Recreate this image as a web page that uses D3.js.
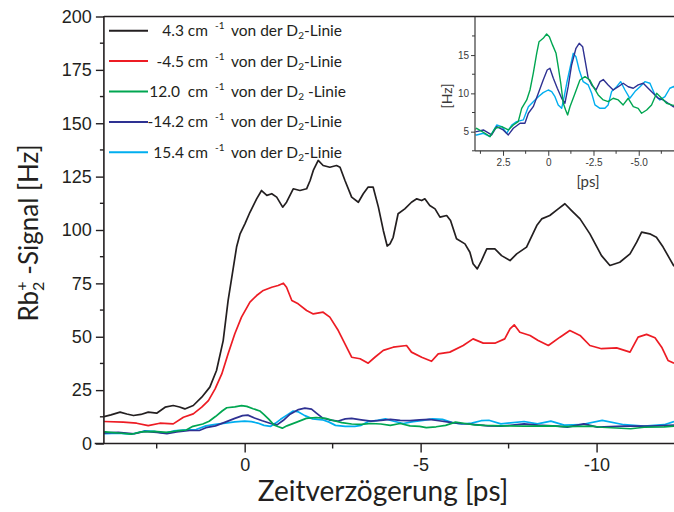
<!DOCTYPE html>
<html><head><meta charset="utf-8">
<script src="https://cdn.jsdelivr.net/npm/d3@7"></script>
<style>
html,body{margin:0;padding:0;background:#fff;}
svg{display:block;font-family:Lato, "Open Sans", sans-serif;}
</style></head>
<body>
<svg id="c" width="674" height="512"></svg>
<script>
// ---- data: [time delay (ps), signal (Hz)] ----
const black43 = [[4.0,12.6],[3.8,13.4],[3.54,14.7],[3.35,13.8],[3.16,13.1],[2.95,13.6],[2.74,14.7],[2.5,14.2],[2.26,17.0],[2.03,17.8],[1.85,17.1],[1.70,16.2],[1.46,17.8],[1.22,21.7],[0.99,26.4],[0.80,34.2],[0.61,48.2],[0.47,67],[0.32,82.6],[0.23,92],[0.13,98.2],[-0.01,103],[-0.15,108.3],[-0.34,114.6],[-0.48,118.5],[-0.63,116.2],[-0.77,117],[-0.91,115.4],[-1.08,110.7],[-1.19,113],[-1.38,119.3],[-1.57,118.5],[-1.76,119.3],[-1.86,123.2],[-1.95,127.9],[-2.09,132.6],[-2.23,130.2],[-2.42,129.4],[-2.61,130.2],[-2.71,129.4],[-2.85,123.2],[-3.04,115.4],[-3.23,113],[-3.37,117],[-3.51,120.1],[-3.65,120.1],[-3.8,110.7],[-3.94,99.8],[-4.05,92.5],[-4.13,93.5],[-4.22,96.6],[-4.36,107.6],[-4.55,109.9],[-4.74,113],[-4.89,114.6],[-5.03,113.8],[-5.12,114.6],[-5.26,111.5],[-5.41,109.9],[-5.55,106],[-5.74,106.8],[-5.85,104.4],[-6.02,95.9],[-6.26,93.5],[-6.40,89.6],[-6.49,84.2],[-6.61,81.8],[-6.73,85.7],[-6.88,91.2],[-7.11,91.2],[-7.30,88],[-7.54,85.7],[-7.73,88.8],[-8.01,92],[-8.30,102.1],[-8.44,105.2],[-8.67,106.8],[-8.91,109.9],[-9.10,112.3],[-9.29,109.1],[-9.53,105.2],[-9.81,98.2],[-10.14,88],[-10.38,83.4],[-10.66,84.9],[-10.95,88.8],[-11.14,94.3],[-11.28,99],[-11.51,98.2],[-11.70,96.6],[-11.89,92],[-12.08,86.5],[-12.2,83]];
const red45 = [[4.0,10.3],[3.45,10],[3.07,9.5],[2.74,8.4],[2.41,9.5],[2.03,9.2],[1.74,12.3],[1.46,13.9],[1.22,17],[1.03,20.1],[0.84,25.6],[0.65,32.6],[0.47,42],[0.28,51.4],[0.09,59.2],[-0.15,66.2],[-0.34,69.3],[-0.53,71.7],[-0.77,73.2],[-0.95,74],[-1.10,75.1],[-1.19,73.2],[-1.34,67],[-1.52,65.4],[-1.76,62.3],[-1.95,60.7],[-2.23,61.5],[-2.42,59.2],[-2.66,52.9],[-2.85,46.7],[-3.04,40.4],[-3.28,39.7],[-3.51,37.6],[-3.70,40.4],[-3.94,43.6],[-4.22,45.1],[-4.60,45.9],[-4.74,42.8],[-5.03,40.4],[-5.31,38.5],[-5.50,42],[-5.83,42.8],[-6.21,45.9],[-6.49,49],[-6.78,47],[-7.11,47],[-7.39,49],[-7.54,53.7],[-7.66,55.6],[-7.82,52.1],[-8.11,50.6],[-8.34,48.2],[-8.63,45.9],[-8.96,49.8],[-9.24,52.9],[-9.53,50.6],[-9.81,45.9],[-10.14,44.4],[-10.57,44.8],[-10.95,42.8],[-11.18,49.8],[-11.42,51.1],[-11.66,49.5],[-11.85,45.1],[-12.03,38.9],[-12.2,37.6]];
const green120 = [[4.05,5.3],[3.96,5.44],[3.50,4.79],[3.22,4.35],[2.94,5.44],[2.57,5.65],[2.21,5.22],[1.93,5.87],[1.66,6.31],[1.47,8.05],[1.19,9.14],[1.01,10.44],[0.83,12.62],[0.64,15.23],[0.51,16.75],[0.28,17.19],[0.09,17.75],[-0.06,17.4],[-0.24,16.3],[-0.43,15.23],[-0.55,13.49],[-0.69,11.32],[-0.83,8.71],[-0.96,7.83],[-1.07,7.18],[-1.20,8.26],[-1.48,10.01],[-1.75,11.75],[-2.03,12.18],[-2.30,11.75],[-2.49,10.87],[-2.76,9.79],[-3.04,9.14],[-3.31,8.92],[-3.59,9.36],[-3.87,9.14],[-4.14,8.49],[-4.42,9.36],[-4.70,8.26],[-4.97,8.05],[-5.16,7.40],[-5.44,7.83],[-5.71,8.49],[-5.99,10.01],[-6.27,9.36],[-6.54,8.71],[-6.82,8.49],[-7.28,8.3],[-7.94,8.1],[-8.70,8.3],[-9.08,7.9],[-9.83,8.1],[-10.16,7.6],[-10.97,6.9],[-11.35,7.6],[-11.92,7.8],[-12.2,8.1]];
const navy142 = [[4.05,5.0],[3.96,5],[3.59,5.22],[3.13,4.57],[2.85,5.65],[2.49,5.22],[2.21,4.57],[1.93,5.44],[1.56,6.10],[1.29,6.10],[1.10,7.40],[0.83,8.26],[0.55,10.01],[0.28,11.75],[0.06,13.05],[-0.09,13.28],[-0.28,11.97],[-0.50,10.67],[-0.74,9.36],[-0.92,8.71],[-1.10,10.87],[-1.29,13.71],[-1.53,15.89],[-1.71,16.54],[-1.90,16.1],[-2.03,14.36],[-2.21,11.97],[-2.40,11.1],[-2.64,10.44],[-2.86,11.53],[-3.04,11.8],[-3.31,11.1],[-3.59,10.44],[-3.87,10.87],[-4.14,11.32],[-4.42,10.87],[-4.70,10.67],[-4.97,11.1],[-5.25,11.32],[-5.52,10.67],[-5.80,10.01],[-6.08,9.36],[-6.35,9.14],[-6.63,8.71],[-6.91,8.26],[-7.28,8.1],[-7.94,9.2],[-8.32,8.6],[-8.89,8.1],[-9.17,7.7],[-9.64,9.2],[-10.02,7.7],[-10.78,8.1],[-11.54,8.1],[-12.2,8.6]];
const cyan154 = [[4.05,4.6],[3.96,4.57],[3.59,4.79],[3.22,4.35],[2.85,5.87],[2.57,5.65],[2.30,4.79],[2.02,5.87],[1.75,6.31],[1.38,6.53],[1.10,8.26],[0.83,8.92],[0.55,9.57],[0.28,10.1],[0.0,10.44],[-0.19,10.23],[-0.37,9.57],[-0.55,8.49],[-0.74,8.05],[-0.88,9.57],[-1.02,11.32],[-1.20,13.28],[-1.38,15.23],[-1.53,14.79],[-1.71,13.05],[-1.93,11.53],[-2.21,11.1],[-2.40,10.01],[-2.58,8.49],[-2.86,8.05],[-3.13,8.05],[-3.31,8.49],[-3.50,10.23],[-3.78,10.87],[-4.0,11.53],[-4.24,10.44],[-4.51,9.36],[-4.79,10.23],[-5.07,10.87],[-5.34,11.53],[-5.62,11.32],[-5.90,9.79],[-6.17,9.14],[-6.45,9.57],[-6.72,10.67],[-6.94,10.9],[-7.28,9.2],[-7.94,10.3],[-8.32,9.2],[-8.70,10.5],[-9.08,8.6],[-9.55,8.8],[-10.16,10.8],[-10.78,8.8],[-11.35,8.1],[-11.92,8.8],[-12.2,10.3]];

const legendNumbers = ["4.3 cm", "-4.5 cm", "12.0\u00a0 cm", "-14.2 cm", "15.4 cm"];
const legendTails = ["-Linie", "-Linie", "\u00a0-Linie", "-Linie", "-Linie"];
const seriesColors = ["#231f20", "#ed1c24", "#00a651", "#2e3192", "#00aeef"];
const mainXTicks = [0, -5, -10];
const mainXLabels = ["0", "-5", "-10"];
const mainYTicks = [0, 25, 50, 75, 100, 125, 150, 175, 200];
const insetXTicks = [2.5, 0, -2.5, -5.0];
const insetXLabels = ["2.5", "0", "-2.5", "-5.0"];
const insetYTicks = [5, 10, 15];

const allSeries = [black43, red45, green120, navy142, cyan154];
const lowSeries = [green120, navy142, cyan154];
const lowColors = [seriesColors[2], seriesColors[3], seriesColors[4]];

const svg = d3.select("#c");
const ink = "#231f20";

// ---- main plot ----
const x = d3.scaleLinear().domain([4.0, -12.2]).range([103.9, 674]);
const y = d3.scaleLinear().domain([0, 200]).range([443.5, 16.5]);

svg.append("clipPath").attr("id","mclip").append("rect")
  .attr("x",104).attr("y",16).attr("width",570).attr("height",428);

const line = d3.line().x(d=>x(d[0])).y(d=>y(d[1]));
const gLines = svg.append("g").attr("clip-path","url(#mclip)");
[4,3,2,1,0].forEach(i=>{
  gLines.append("path").datum(allSeries[i])
    .attr("fill","none").attr("stroke",seriesColors[i])
    .attr("stroke-width",1.7).attr("stroke-linejoin","round")
    .attr("d",line);
});

// axes
const xAxis = d3.axisBottom(x).tickValues(mainXTicks)
  .tickFormat((d,i)=>mainXLabels[i]).tickSize(9).tickSizeOuter(0);
const gx = svg.append("g").attr("transform","translate(0,443.5)").call(xAxis);
gx.select(".domain").remove();
gx.append("line").attr("x1",94.7).attr("x2",674).attr("stroke",ink).attr("stroke-width",1.6);
gx.selectAll(".tick line").attr("stroke",ink).attr("stroke-width",1.4);
gx.selectAll(".tick text").attr("fill",ink).attr("font-size",18).attr("dy","1.0em").attr("y",9);
const xMinor = [2.5, -2.5, -7.5, -12.5].filter(v=>v<=4 && v>=-12.2);
gx.selectAll(".minor").data(xMinor).join("line").attr("class","minor")
  .attr("x1",d=>x(d)).attr("x2",d=>x(d)).attr("y1",0).attr("y2",5)
  .attr("stroke",ink).attr("stroke-width",1.4);

const yAxis = d3.axisLeft(y).tickValues(mainYTicks).tickSize(8).tickSizeOuter(0);
const gy = svg.append("g").attr("transform","translate(103.9,0)").call(yAxis);
gy.select(".domain").remove();
gy.append("line").attr("y1",16).attr("y2",443.5).attr("stroke",ink).attr("stroke-width",1.6);
gy.selectAll(".tick line").attr("stroke",ink).attr("stroke-width",1.4);
gy.selectAll(".tick text").attr("fill",ink).attr("font-size",18).attr("x",-12);
const yMinor = d3.range(12.5, 200, 25);
gy.selectAll(".minor").data(yMinor).join("line").attr("class","minor")
  .attr("x1",-4).attr("x2",0).attr("y1",d=>y(d)).attr("y2",d=>y(d))
  .attr("stroke",ink).attr("stroke-width",1.4);
svg.append("line").attr("x1",103.9).attr("x2",674).attr("y1",16.5).attr("y2",16.5)
  .attr("stroke",ink).attr("stroke-width",1.6);

// axis titles
svg.append("text").attr("x",383).attr("y",501).attr("text-anchor","middle")
  .attr("font-size",28).attr("fill",ink).text("Zeitverzögerung [ps]");
const yl = svg.append("text").attr("transform","translate(38,233) rotate(-90)")
  .attr("text-anchor","middle").attr("font-size",26).attr("fill",ink);
yl.append("tspan").text("Rb");
yl.append("tspan").attr("font-size",16).attr("dy",6).text("2");
yl.append("tspan").attr("font-size",16).attr("dx",-9).attr("dy",-17).text("+");
yl.append("tspan").attr("dy",11).text("\u00a0-Signal [Hz]");

// legend
const legY = d3.range(5).map(i=>30.7 + i*30.4);
const gl = svg.append("g");
legendNumbers.forEach((lab,i)=>{
  const yy = legY[i];
  gl.append("line").attr("x1",109).attr("x2",148).attr("y1",yy).attr("y2",yy)
    .attr("stroke",seriesColors[i]).attr("stroke-width",2);
  gl.append("text").attr("x",208).attr("y",yy+5.5).attr("text-anchor","end")
    .attr("font-size",15.5).attr("fill",ink).text(lab);
  gl.append("text").attr("x",215).attr("y",yy-1.5).attr("font-size",10).attr("fill",ink).text("-1");
  const t = gl.append("text").attr("x",231).attr("y",yy+5.5).attr("font-size",15.5).attr("fill",ink);
  t.append("tspan").text("von der D");
  t.append("tspan").attr("font-size",10).attr("dy",3).text("2");
  t.append("tspan").attr("dy",-3).text(legendTails[i]);
});

// ---- inset ----
const xi = d3.scaleLinear().domain([4.05, -6.95]).range([475, 674]);
const yi = d3.scaleLinear().domain([2.5, 20]).range([150.8, 16.8]);
svg.append("clipPath").attr("id","iclip").append("rect")
  .attr("x",475.5).attr("y",16).attr("width",199).attr("height",134.5);
const linei = d3.line().x(d=>xi(d[0])).y(d=>yi(d[1]));
const gi = svg.append("g").attr("clip-path","url(#iclip)");
[2,1,0].forEach(i=>{
  gi.append("path").datum(lowSeries[i]).attr("fill","none")
    .attr("stroke",lowColors[i]).attr("stroke-width",1.4).attr("stroke-linejoin","round")
    .attr("d",linei);
});
const grey = "#3a3a3a";
const ixAxis = d3.axisBottom(xi).tickValues(insetXTicks)
  .tickFormat((d,i)=>insetXLabels[i]).tickSize(5).tickSizeOuter(0);
const gix = svg.append("g").attr("transform","translate(0,150.8)").call(ixAxis);
gix.select(".domain").remove();
gix.append("line").attr("x1",475).attr("x2",674).attr("stroke",grey).attr("stroke-width",1.2);
gix.selectAll(".tick line").attr("stroke",grey);
gix.selectAll(".tick text").attr("fill",grey).attr("font-size",10).attr("y",8);
gix.selectAll(".minor").data([3.75,1.25,-1.25,-3.75,-6.25]).join("line").attr("class","minor")
  .attr("x1",d=>xi(d)).attr("x2",d=>xi(d)).attr("y1",0).attr("y2",3).attr("stroke",grey);
const iyAxis = d3.axisLeft(yi).tickValues(insetYTicks).tickSize(4).tickSizeOuter(0);
const giy = svg.append("g").attr("transform","translate(475,0)").call(iyAxis);
giy.select(".domain").remove();
giy.append("line").attr("y1",16.8).attr("y2",150.8).attr("stroke",grey).attr("stroke-width",1.2);
giy.selectAll(".tick line").attr("stroke",grey);
giy.selectAll(".tick text").attr("fill",grey).attr("font-size",10).attr("x",-6);
giy.selectAll(".minor").data([2.5,7.5,12.5,17.5]).join("line").attr("class","minor")
  .attr("x1",-3).attr("x2",0).attr("y1",d=>yi(d)).attr("y2",d=>yi(d)).attr("stroke",grey);
svg.append("text").attr("transform","translate(452,96) rotate(-90)").attr("text-anchor","middle")
  .attr("font-size",14).attr("fill",grey).text("[Hz]");
svg.append("text").attr("x",588).attr("y",187).attr("text-anchor","middle")
  .attr("font-size",15).attr("fill",grey).text("[ps]");
</script>
</body></html>
